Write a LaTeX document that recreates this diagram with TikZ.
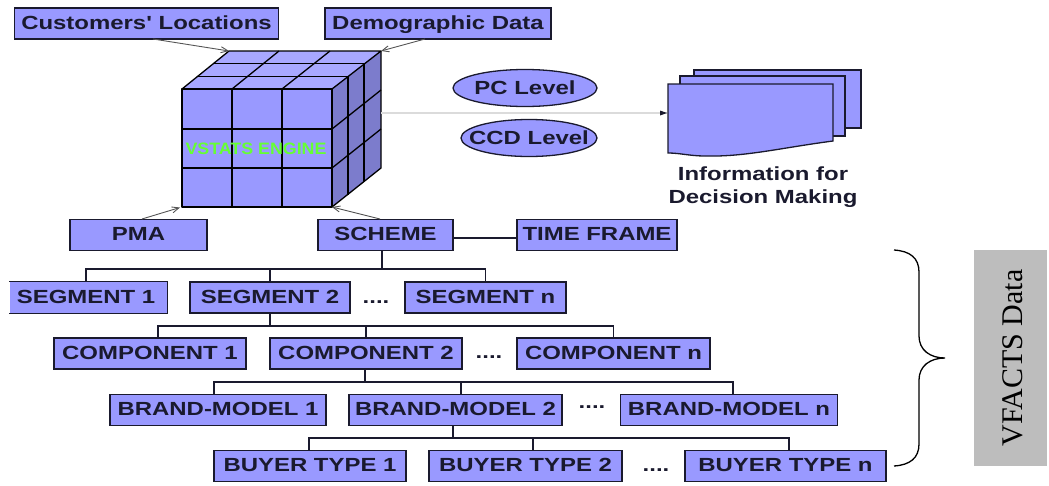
\documentclass[tikz,border=0pt]{standalone}
\usepackage{fontspec}
\setmainfont{Liberation Sans}
\newfontfamily\serifface{Liberation Serif}
\newfontfamily\wideface[FakeStretch=1.26]{Liberation Sans Bold}
\newfontfamily\engface[FakeStretch=1.08]{Liberation Sans Bold}
\usetikzlibrary{arrows.meta,shapes.geometric}
\definecolor{boxfill}{HTML}{9999FF}
\definecolor{toplight}{HTML}{A8A8FF}
\definecolor{sidedark}{HTML}{7C7CCC}
\definecolor{ink}{HTML}{1A1A2E}
\definecolor{thinarrow}{HTML}{555555}
\definecolor{engine}{HTML}{66FF33}
\tikzset{
  x=1pt,y=-1pt,
  bx/.style={draw=ink,line width=1.3pt,fill=boxfill,inner sep=0pt,text=ink,
    font=\wideface\fontsize{19}{22}\selectfont,minimum height=31pt,anchor=center,
    text height=13.6pt,text depth=2pt},
  bxopen/.style={bx,draw=none},
  ell/.style={draw=ink,line width=1.3pt,fill=boxfill,shape=ellipse,inner sep=0pt,text=ink,
    font=\wideface\fontsize{19}{22}\selectfont},
  link/.style={draw=ink,line width=1.3pt},
  feed/.style={draw=thinarrow,line width=0.9pt,-{Straight Barb[length=7pt,width=6pt]}},
  cubeline/.style={draw=black,line width=1.3pt,line join=round},
  dots/.style={text=ink,font=\wideface\fontsize{19}{22}\selectfont,inner sep=0pt},
  doc/.style={draw=ink,line width=1.3pt,fill=boxfill,line join=miter},
  captxt/.style={text=ink,font=\wideface\fontsize{19}{23}\selectfont,align=center,inner sep=0pt}
}
\begin{document}
\begin{tikzpicture}
\useasboundingbox (0,0) rectangle (1049,485);
% top boxes
\node[bx,minimum width=264pt] (cust) at (146.5,23.5) {Customers' Locations};
\node[bx,minimum width=226pt] (demo) at (438,23.5) {Demographic Data};
% cube
\coordinate (ftl) at (182,89);
\coordinate (ftr) at (332,89);
\coordinate (fbl) at (182,207);
\coordinate (fbr) at (332,207);
\coordinate (btl) at (229,51);
\coordinate (btr) at (381,51);
\coordinate (bbr) at (381,168);
\fill[toplight] (ftl)--(btl)--(btr)--(ftr)--cycle;
\fill[boxfill] (ftl)--(ftr)--(fbr)--(fbl)--cycle;
\fill[sidedark] (ftr)--(btr)--(bbr)--(fbr)--cycle;
\draw[cubeline] (ftl) rectangle (fbr);
\draw[cubeline] (232,89)--(232,207) (282,89)--(282,207);
\draw[cubeline] (182,129)--(332,129) (182,168)--(332,168);
\draw[cubeline] (ftl)--(btl)--(btr)--(ftr);
\draw[cubeline] (232,89)--(279,51) (282,89)--(330,51);
\draw[cubeline] (198,76.5)--(348,76.5) (214,63.5)--(364,63.5);
\draw[cubeline] (btr)--(bbr)--(fbr);
\draw[cubeline] (348,76.5)--(348,194.5) (364,63.5)--(364,181.5);
\draw[cubeline] (332,129)--(381,90) (332,168)--(381,129);
\node[text=engine,inner sep=0pt,font=\engface\fontsize{16.5}{18}\selectfont] (eng) at (256,149) {VSTATS ENGINE};
% feeding arrows
\coordinate (custtail) at (153,39);
\coordinate (demotail) at (425,39);
\coordinate (pmatail) at (142,219);
\coordinate (schtail) at (380,219);
\coordinate (pmahead) at (180,207.5);
\draw[feed] (custtail) -- (btl);
\draw[feed] (demotail) -- (btr);
% lower top boxes
\node[bx,minimum width=137pt] (pma) at (138.5,235) {PMA};
\node[bx,minimum width=135pt] (sch) at (385.5,235) {SCHEME};
\node[bx,minimum width=160pt] (time) at (597,235) {TIME FRAME};
\draw[feed] (pmatail) -- (pmahead);
\draw[feed] (schtail) -- (fbr);
\draw[link] ([yshift=-3pt]sch.east) -- ([yshift=-3pt]time.west);
% output
\coordinate (outstart) at (381,113);
\coordinate (outend) at (667,113);
\draw[draw=black!14,line width=2pt] (outstart) -- (outend);
\fill[ink] (667,113) -- (660,110.5) -- (660,115.5) -- cycle;
\node[ell,minimum width=144pt,minimum height=37pt] (pc) at (525,88) {\makebox[0pt]{PC Level}};
\node[ell,minimum width=136pt,minimum height=37pt] (ccd) at (529,138) {\makebox[0pt]{CCD Level}};
\draw[doc] (694,70) rectangle (861,128);
\draw[doc] (680,76) rectangle (845,136);
\draw[doc] (668,84) -- (833,84) -- (833,141) .. controls (780,148) and (745,157) .. (705,156) .. controls (690,156) and (680,153) .. (668,153) -- cycle;
\node[captxt] (info) at (763,187) {Information for\\Decision Making};
% segment row
\node[bxopen,minimum width=157pt] (sg1) at (88.5,297.5) {\hspace*{-5pt}SEGMENT 1};
\draw[link] (sg1.north west)--(sg1.north east)--(sg1.south east)--(sg1.south west);
\node[bx,minimum width=160pt] (sg2) at (270,297.5) {SEGMENT 2};
\node[dots] (dd1) at (376,302) {....};
\node[bx,minimum width=161pt] (sg3) at (485.5,297.5) {SEGMENT n};
\coordinate (b1) at (382,269);
\coordinate (b1l) at (86,269);
\coordinate (b1r) at (485.5,269);
\draw[link] (sch.south -| b1) -- (b1);
\draw[link] (b1l |- sg1.north) -- (b1l) -- (b1r) -- (sg3.north);
\draw[link] (sg2.north) -- (sg2.north |- b1);
% component row
\node[bx,minimum width=192pt] (c1) at (150,353.5) {COMPONENT 1};
\node[bx,minimum width=192pt] (c2) at (366,353.5) {COMPONENT 2};
\node[dots] (dd2) at (489,357) {....};
\node[bx,minimum width=193pt] (c3) at (613.5,353.5) {COMPONENT n};
\coordinate (b2) at (270,326);
\coordinate (b2l) at (158,326);
\coordinate (b2r) at (613.5,326);
\draw[link] (sg2.south) -- (b2);
\draw[link] (b2l |- c1.north) -- (b2l) -- (b2r) -- (c3.north);
\draw[link] (c2.north) -- (c2.north |- b2);
% brand row
\node[bx,minimum width=216pt] (m1) at (218,410) {BRAND-MODEL 1};
\node[bx,minimum width=213pt] (m2) at (455.5,410) {BRAND-MODEL 2};
\node[dots] (dd3) at (592,407) {....};
\node[bx,minimum width=217pt] (m3) at (729,410) {BRAND-MODEL n};
\coordinate (b3) at (365,382);
\coordinate (b3l) at (214,382);
\coordinate (b3r) at (733,382);
\coordinate (b3m) at (461,382);
\draw[link] (b3 |- c2.south) -- (b3);
\draw[link] (b3l |- m1.north) -- (b3l) -- (b3r) -- (b3r |- m3.north);
\draw[link] (b3m) -- (b3m |- m2.north);
% buyer row
\node[bx,minimum width=192pt] (t1) at (310,466) {BUYER TYPE 1};
\node[bx,minimum width=193pt] (t2) at (525.5,466) {BUYER TYPE 2};
\node[dots] (dd4) at (656,470) {....};
\node[bx,minimum width=201pt] (t3) at (785.5,466) {BUYER TYPE n};
\coordinate (b4) at (453,438);
\coordinate (b4l) at (309,438);
\coordinate (b4r) at (789,438);
\coordinate (b4m) at (533,438);
\draw[link] (b4 |- m2.south) -- (b4);
\draw[link] (b4l |- t1.north) -- (b4l) -- (b4r) -- (b4r |- t3.north);
\draw[link] (b4m) -- (b4m |- t2.north);
% brace
\draw[draw=black,line width=1.3pt] (894,250) .. controls (910,251) and (919,258) .. (919,272)
  -- (919,336) .. controls (919,350) and (930,358) .. (945,358)
  .. controls (930,358) and (919,366) .. (919,380)
  -- (919,444) .. controls (919,458) and (910,465) .. (894,466);
% side label
\node[fill=black!26,minimum width=73pt,minimum height=216pt,inner sep=0pt] (side) at (1010.5,358) {};
\node[rotate=90,inner sep=0pt,text=black,font=\serifface\fontsize{30}{34}\selectfont] (vf) at (1013,358) {VFACTS Data};
\end{tikzpicture}
\end{document}
